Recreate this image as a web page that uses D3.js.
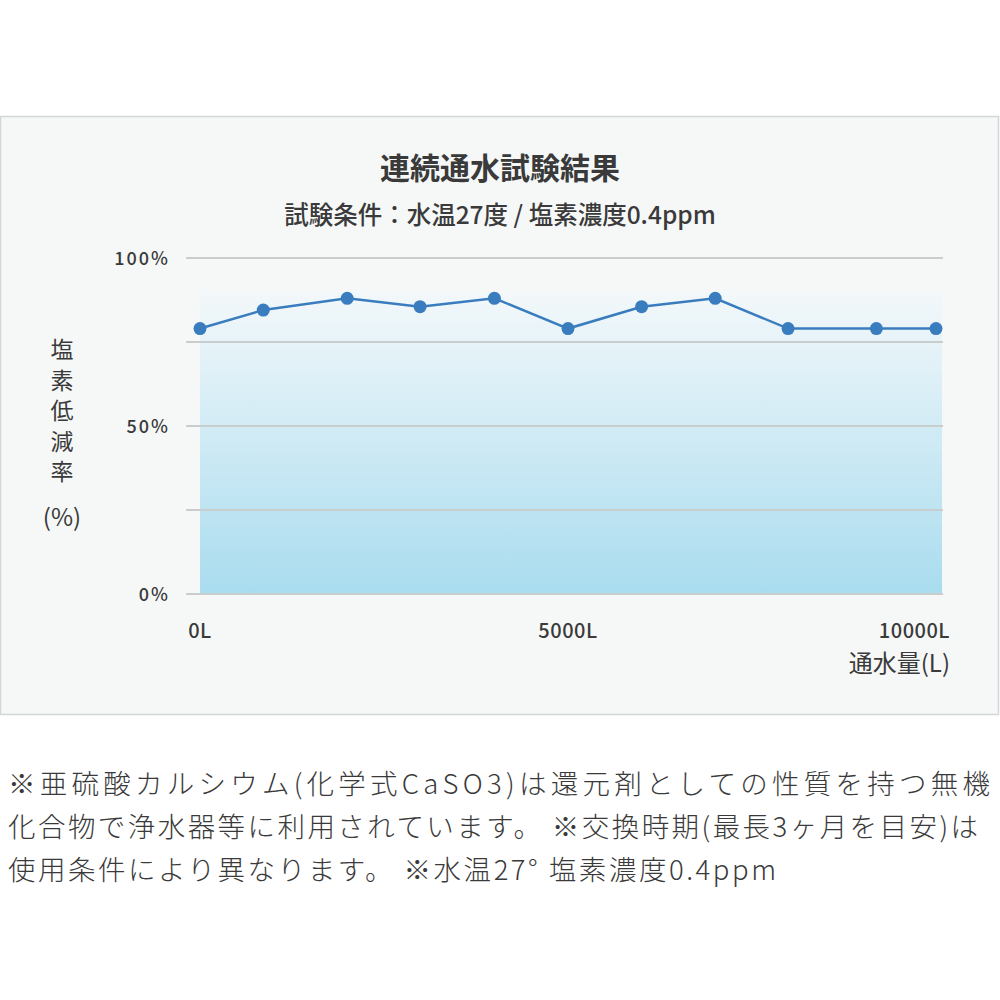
<!DOCTYPE html>
<html>
<head>
<meta charset="utf-8">
<script src="https://cdn.jsdelivr.net/npm/d3@7"></script>
<style>
  body { margin: 0; background: #fff; }
  svg { display: block; }
  text { font-family: "Noto Sans CJK JP", "Noto Sans", sans-serif; fill: #3a3a3a; }
</style>
</head>
<body>
<svg width="1000" height="1000"></svg>
<script>
// data
const volumes = [0, 860, 2000, 2990, 4000, 5000, 6000, 7000, 7990, 9190, 10000];
const reduction = [79, 84.5, 88, 85.5, 88, 79, 85.5, 88, 79, 79, 79];
const gridTicks = [0, 25, 50, 75, 100];
const yLabels = [0, 50, 100];
const xLabels = [0, 5000, 10000];
const yTitle = "塩素低減率";
const notes = [
    "※亜硫酸カルシウム(化学式CaSO3)は還元剤としての性質を持つ無機",
    "化合物で浄水器等に利用されています。 ※交換時期(最長3ヶ月を目安)は",
    "使用条件により異なります。 ※水温27° 塩素濃度0.4ppm"
];
const noteWidths = [982, 970, 768];

const svg = d3.select("svg");

// panel background
svg.append("rect")
    .attr("x", 0.5).attr("y", 116.5)
    .attr("width", 998).attr("height", 598)
    .attr("fill", "#f6f8f8")
    .attr("stroke", "#d3d7d7")
    .attr("stroke-width", 1.5);

// titles
svg.append("text")
    .attr("x", 500).attr("y", 179)
    .attr("text-anchor", "middle")
    .attr("font-size", 30).attr("font-weight", 700)
    .text("連続通水試験結果");

svg.append("text")
    .attr("x", 500).attr("y", 224)
    .attr("text-anchor", "middle")
    .attr("font-size", 24.5).attr("font-weight", 500)
    .text("試験条件：水温27度 / 塩素濃度0.4ppm");

const x = d3.scaleLinear().domain([0, 10000]).range([200, 936]);
const y = d3.scaleLinear().domain([0, 100]).range([594, 258]);

// gradient band behind the line
const grad = svg.append("defs").append("linearGradient")
    .attr("id", "band").attr("x1", 0).attr("y1", 0).attr("x2", 0).attr("y2", 1);
grad.append("stop").attr("offset", "0%").attr("stop-color", "#f3f8fa");
grad.append("stop").attr("offset", "100%").attr("stop-color", "#a9dcef");

svg.append("rect")
    .attr("x", x(0))
    .attr("y", y(90))
    .attr("width", x(10000) - x(0) + 6)
    .attr("height", y(0) - y(90))
    .attr("fill", "url(#band)");

// gridlines
svg.selectAll(".grid")
    .data(gridTicks)
    .enter()
    .append("line")
    .attr("x1", x(0) - 14)
    .attr("x2", x(10000) + 7)
    .attr("y1", (d) => y(d))
    .attr("y2", (d) => y(d))
    .attr("stroke", "#c9cdcd")
    .attr("stroke-width", 2);

// y tick labels
svg.selectAll(".ylab")
    .data(yLabels)
    .enter()
    .append("text")
    .attr("x", 170)
    .attr("y", (d) => y(d) + 7)
    .attr("text-anchor", "end")
    .attr("font-size", 18).attr("font-weight", 500)
    .attr("letter-spacing", 2)
    .text((d) => d + "%");

// x tick labels
svg.selectAll(".xlab")
    .data(xLabels)
    .enter()
    .append("text")
    .attr("x", (d, i) => (i === 2 ? x(d) + 14 : x(d)))
    .attr("y", 638)
    .attr("text-anchor", (d, i) => (i === 2 ? "end" : "middle"))
    .attr("font-size", 20).attr("font-weight", 500)
    .attr("letter-spacing", 0.5)
    .text((d) => d + "L");

svg.append("text")
    .attr("x", x(10000) + 14).attr("y", 672)
    .attr("text-anchor", "end")
    .attr("font-size", 24)
    .text("通水量(L)");

// vertical y title, one text element set top-to-bottom
svg.append("text")
    .attr("x", 62)
    .attr("y", 338)
    .attr("writing-mode", "vertical-rl")
    .style("writing-mode", "vertical-rl")
    .attr("font-size", 23)
    .attr("letter-spacing", 7.5)
    .text(yTitle);

svg.append("text")
    .attr("x", 62).attr("y", 526)
    .attr("text-anchor", "middle")
    .attr("font-size", 24)
    .text("(%)");

// line and points
const pts = volumes.map((v, i) => [v, reduction[i]]);
const line = d3.line().x((d) => x(d[0])).y((d) => y(d[1]));

svg.append("path")
    .datum(pts)
    .attr("d", line)
    .attr("fill", "none")
    .attr("stroke", "#3a7dbf")
    .attr("stroke-width", 2.5);

svg.selectAll(".dot")
    .data(pts)
    .enter()
    .append("circle")
    .attr("cx", (d) => x(d[0]))
    .attr("cy", (d) => y(d[1]))
    .attr("r", 6.5)
    .attr("fill", "#3a7dbf");

// footnotes
svg.selectAll(".note")
    .data(notes)
    .enter()
    .append("text")
    .attr("x", 8)
    .attr("y", (d, i) => 794 + i * 43)
    .attr("font-size", 27.5)
    .attr("font-weight", 300)
    .attr("fill", "#333")
    .attr("textLength", (d, i) => noteWidths[i])
    .attr("lengthAdjust", "spacing")
    .text((d) => d);
</script>
</body>
</html>
